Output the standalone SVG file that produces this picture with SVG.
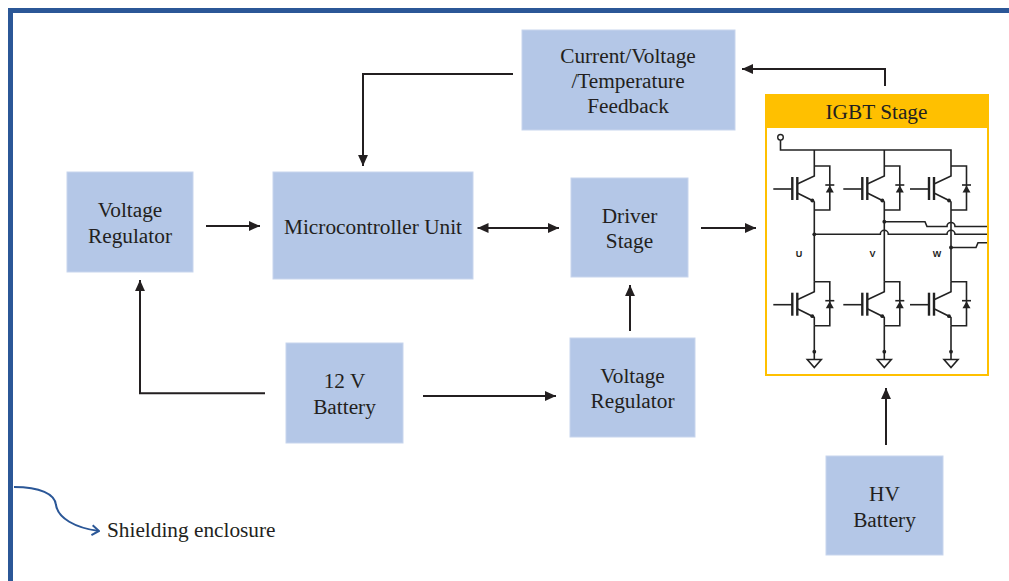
<svg xmlns="http://www.w3.org/2000/svg" xmlns:xlink="http://www.w3.org/1999/xlink" width="1009" height="581" viewBox="0 0 1009 581">
<style>
.box{fill:#b4c7e7;stroke:#c8d5ed;stroke-width:1}
.t{font-family:"Liberation Serif","Times New Roman",serif;font-size:21.3px;fill:#231f20;text-anchor:middle}
.conn{stroke:#231f20;stroke-width:2;fill:none}
.ck{stroke:#222;stroke-width:1.6;fill:none}
.ckb{stroke:#222;stroke-width:2.4;fill:none}
.lab{font-family:"Liberation Sans",Arial,sans-serif;font-size:9px;font-weight:bold;fill:#222;text-anchor:middle}
</style>
<defs>
<marker id="ah" viewBox="0 0 10 9" refX="10" refY="4.5" markerWidth="11" markerHeight="10" markerUnits="userSpaceOnUse" orient="auto-start-reverse">
<path d="M0,0 L10,4.5 L0,9 Z" fill="#231f20"/>
</marker>
<marker id="chev" viewBox="0 0 10 12" refX="9" refY="6" markerWidth="10" markerHeight="12" markerUnits="userSpaceOnUse" orient="auto">
<path d="M2,1 L9,6 L2,11" fill="none" stroke="#2b5797" stroke-width="2"/>
</marker>
<g id="cell">
<path class="ck" d="M0,0 H15.5 V44 H0"/>
<path class="ck" d="M0,0 V10 L-17,18"/>
<path class="ckb" d="M-17,11 V34"/>
<path class="ckb" d="M-22,11 V34"/>
<path class="ck" d="M-41,23 H-22"/>
<path class="ck" d="M-17,27 L-1,35 L0,36 V44"/>
<circle cx="-2" cy="34.5" r="1.9" fill="#222"/>
<path d="M11.5,26.5 H19.5 L15.5,19.5 Z" fill="#222"/>
<path class="ck" d="M11,19 H20"/>
</g>
<g id="gnd">
<path class="ck" d="M-7,359.5 H7 L0,367.5 Z"/>
</g>
</defs>
<rect x="0" y="0" width="1009" height="581" fill="#ffffff"/>
<g id="enclosure">
<path d="M10.5,581 V10.5 H1009" fill="none" stroke="#2b5797" stroke-width="5"/>
<path d="M14,487 C40,487 55,494 56,505 C58,518 75,528 99,531" fill="none" stroke="#2b5797" stroke-width="2" marker-end="url(#chev)"/>
<text x="107" y="537.3" font-family="Liberation Serif, Times New Roman, serif" font-size="21.3" fill="#231f20">Shielding enclosure</text>
</g>
<g id="connectors">
<path class="conn" d="M206,226 H260" marker-end="url(#ah)"/>
<path class="conn" d="M477.5,228 H559" marker-start="url(#ah)" marker-end="url(#ah)"/>
<path class="conn" d="M701,228 H756" marker-end="url(#ah)"/>
<path class="conn" d="M513,74 H363 V166" marker-end="url(#ah)"/>
<path class="conn" d="M885,86 V69 H742" marker-end="url(#ah)"/>
<path class="conn" d="M265,393.3 H140 V280" marker-end="url(#ah)"/>
<path class="conn" d="M423,396 H556" marker-end="url(#ah)"/>
<path class="conn" d="M630,331 V285" marker-end="url(#ah)"/>
<path class="conn" d="M886,445 V388" marker-end="url(#ah)"/>
</g>
<g id="vreg1">
<rect class="box" x="67" y="172" width="126" height="100"/>
<text class="t" x="130" y="217.3">Voltage</text>
<text class="t" x="130" y="242.7">Regulator</text>
</g>
<g id="mcu">
<rect class="box" x="273" y="172" width="200" height="107"/>
<text class="t" x="373" y="233.7">Microcontroller Unit</text>
</g>
<g id="feedback">
<rect class="box" x="522" y="30" width="213" height="100"/>
<text class="t" x="628" y="62.7">Current/Voltage</text>
<text class="t" x="628" y="88.3">/Temperature</text>
<text class="t" x="628" y="113.3">Feedback</text>
</g>
<g id="driver">
<rect class="box" x="571" y="178" width="117" height="99"/>
<text class="t" x="629.5" y="223.3">Driver</text>
<text class="t" x="629.5" y="248.3">Stage</text>
</g>
<g id="battery12">
<rect class="box" x="286" y="343" width="117" height="100"/>
<text class="t" x="344.5" y="388.3">12 V</text>
<text class="t" x="344.5" y="414.3">Battery</text>
</g>
<g id="vreg2">
<rect class="box" x="570" y="338" width="125" height="99"/>
<text class="t" x="632.5" y="383.3">Voltage</text>
<text class="t" x="632.5" y="408.3">Regulator</text>
</g>
<g id="hvbattery">
<rect class="box" x="826" y="456" width="117" height="99"/>
<text class="t" x="884.5" y="501">HV</text>
<text class="t" x="884.5" y="526.7">Battery</text>
</g>
<g id="igbt">
<rect x="766" y="95" width="222" height="280" fill="#ffffff" stroke="#ffc000" stroke-width="2"/>
<rect x="765" y="94" width="224" height="34" fill="#ffc000"/>
<text class="t" x="876.5" y="119.3">IGBT Stage</text>
<circle cx="780.5" cy="137.3" r="2.8" fill="#fff" stroke="#222" stroke-width="1.4"/>
<path class="ck" d="M780.5,140 V150 H951 V166 M814.3,150 V166 M884.3,150 V166"/>
<use xlink:href="#cell" href="#cell" x="814.3" y="166"/>
<use xlink:href="#cell" href="#cell" x="884.3" y="166"/>
<use xlink:href="#cell" href="#cell" x="951" y="166"/>
<use xlink:href="#cell" href="#cell" x="814.3" y="281.7"/>
<use xlink:href="#cell" href="#cell" x="884.3" y="281.7"/>
<use xlink:href="#cell" href="#cell" x="951" y="281.7"/>
<path class="ck" d="M814.3,210 V281.7 M884.3,210 V281.7 M951,210 V281.7 M814.3,325.7 V359.5 M884.3,325.7 V359.5 M951,325.7 V359.5"/>
<use xlink:href="#gnd" href="#gnd" x="814.3" y="0"/>
<use xlink:href="#gnd" href="#gnd" x="884.3" y="0"/>
<use xlink:href="#gnd" href="#gnd" x="951" y="0"/>
<path class="ck" d="M814.3,234.3 H880.3 A4,4 0 0 1 888.3,234.3 H947 A4,4 0 0 1 955,234.3 H987"/>
<path class="ck" d="M884.3,221.7 H925 L927,226.5 H947 A4,4 0 0 1 955,226.5 H987"/>
<path class="ck" d="M951,247.5 H976 L978,242.7 H987"/>
<g fill="#222">
<circle cx="814.3" cy="234.3" r="1.9"/>
<circle cx="884.3" cy="221.7" r="1.9"/>
<circle cx="951" cy="247.5" r="1.9"/>
<circle cx="814.3" cy="351.7" r="1.9"/>
<circle cx="884.3" cy="351.7" r="1.9"/>
<circle cx="951" cy="351.7" r="1.9"/>
</g>
<text class="lab" x="799" y="257">U</text>
<text class="lab" x="872.5" y="257">V</text>
<text class="lab" x="937" y="257">W</text>
</g>
</svg>
